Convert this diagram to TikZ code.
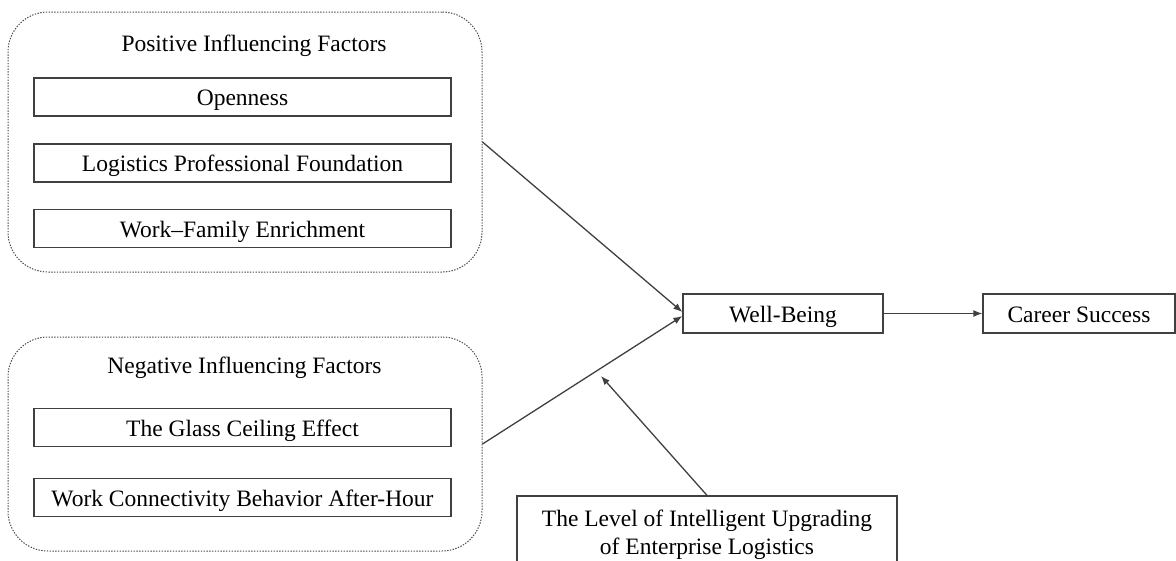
\documentclass[tikz,border=0pt]{standalone}
\usepackage{fontspec}
\setmainfont{Liberation Serif}
\usetikzlibrary{arrows.meta}
\begin{document}
\begin{tikzpicture}[x=1pt,y=-1pt,
  every node/.style={font=\fontsize{23.5}{28.5}\selectfont},
  oneline/.style={text height=21pt, text depth=4pt},
  box/.style={draw=black!75, line width=1.3pt, inner sep=0pt, align=center, oneline},
  group/.style={draw=black!70, line width=1pt, dash pattern=on 1.4pt off 1.4pt, rounded corners=40pt, inner sep=0pt},
  conn/.style={draw=black!75, line width=1.3pt},
  arr/.style={conn, -{Latex[length=9pt,width=7pt]}}]
\useasboundingbox (0,0) rectangle (1176,560);
% positive group
\node[group, minimum width=474pt, minimum height=260pt] (pos) at (245,142) {};
\node[oneline] (postitle) at (254,43) {Positive Influencing Factors};
\node[box, minimum width=417pt, minimum height=38pt] (open) at (242.5,97) {Openness};
\node[box, minimum width=417pt, minimum height=38pt] (log) at (242.5,163) {Logistics Professional Foundation};
\node[box, minimum width=417pt, minimum height=38pt] (wfe) at (242.5,228.5) {Work–Family Enrichment};
% negative group
\node[group, minimum width=474pt, minimum height=214pt] (neg) at (245,444) {};
\node[oneline] (negtitle) at (244.5,365) {Negative Influencing Factors};
\node[box, minimum width=417pt, minimum height=38pt] (gce) at (242.5,427.5) {The Glass Ceiling Effect};
\node[box, minimum width=417pt, minimum height=38pt] (wcb) at (242.5,497.5) {Work Connectivity Behavior After-Hour};
% outcomes
\node[box, minimum width=200pt, minimum height=39pt] (wb) at (783,313.5) {Well-Being};
\node[box, minimum width=192pt, minimum height=39pt] (cs) at (1079,313.5) {Career Success};
% moderator
\node[draw=black!75, line width=1.3pt, inner sep=0pt, minimum width=380pt, minimum height=66pt] (lvl) at (707,529) {};
\node[align=center, inner sep=0pt] (lvltext) at (707,535) {The Level of Intelligent Upgrading\\of Enterprise Logistics};
\coordinate (mod) at (601,376);
% connectors
\draw[arr] (pos.east) -- ([yshift=1.5pt]wb.west);
\draw[arr] (neg.east) -- ([yshift=-2.5pt]wb.west);
\draw[arr] (wb.east) -- (cs.west);
\draw[arr] (lvl.north) -- (mod);
\end{tikzpicture}
\end{document}
